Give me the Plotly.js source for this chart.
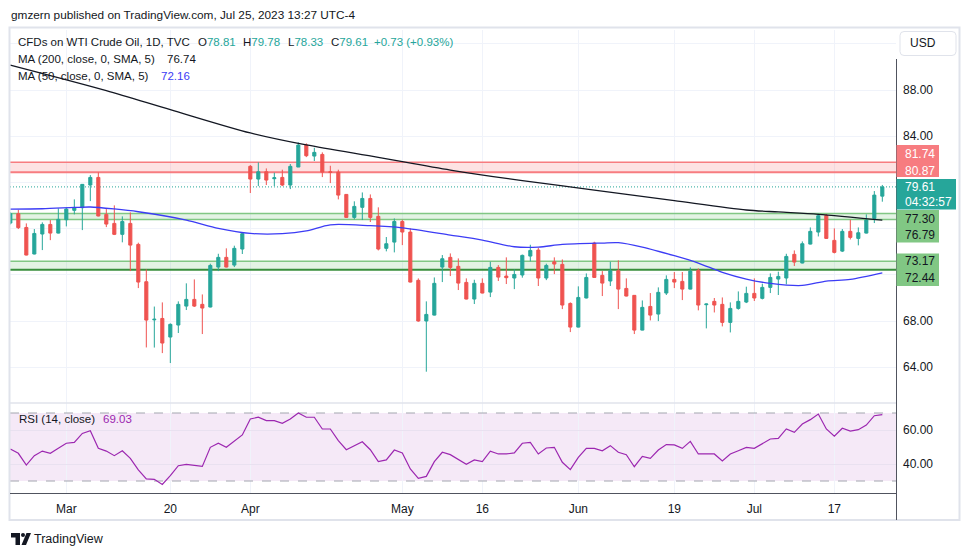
<!DOCTYPE html>
<html><head><meta charset="utf-8">
<script src="https://cdn.plot.ly/plotly-3.0.1.min.js"></script>
<style>html,body{margin:0;padding:0;background:#fff;}#chart{width:970px;height:557px;}</style>
</head><body><div id="chart"></div>
<script>
// ---------- DATA ----------
const dates = ["2023-02-20","2023-02-21","2023-02-22","2023-02-23","2023-02-24","2023-02-27","2023-02-28",
"2023-03-01","2023-03-02","2023-03-03","2023-03-06","2023-03-07","2023-03-08","2023-03-09","2023-03-10","2023-03-13","2023-03-14","2023-03-15","2023-03-16","2023-03-17","2023-03-20","2023-03-21","2023-03-22","2023-03-23","2023-03-24","2023-03-27","2023-03-28","2023-03-29","2023-03-30","2023-03-31",
"2023-04-03","2023-04-04","2023-04-05","2023-04-06","2023-04-10","2023-04-11","2023-04-12","2023-04-13","2023-04-14","2023-04-17","2023-04-18","2023-04-19","2023-04-20","2023-04-21","2023-04-24","2023-04-25","2023-04-26","2023-04-27","2023-04-28",
"2023-05-01","2023-05-02","2023-05-03","2023-05-04","2023-05-05","2023-05-08","2023-05-09","2023-05-10","2023-05-11","2023-05-12","2023-05-15","2023-05-16","2023-05-17","2023-05-18","2023-05-19","2023-05-22","2023-05-23","2023-05-24","2023-05-25","2023-05-26","2023-05-30","2023-05-31",
"2023-06-01","2023-06-02","2023-06-05","2023-06-06","2023-06-07","2023-06-08","2023-06-09","2023-06-12","2023-06-13","2023-06-14","2023-06-15","2023-06-16","2023-06-19","2023-06-20","2023-06-21","2023-06-22","2023-06-23","2023-06-26","2023-06-27","2023-06-28","2023-06-29","2023-06-30",
"2023-07-03","2023-07-04","2023-07-05","2023-07-06","2023-07-07","2023-07-10","2023-07-11","2023-07-12","2023-07-13","2023-07-14","2023-07-17","2023-07-18","2023-07-19","2023-07-20","2023-07-21","2023-07-24","2023-07-25"];

const openP = [76.48,77.29,76.10,73.80,75.53,76.36,75.61,76.77,77.58,77.81,
79.77,80.43,77.23,76.45,75.50,76.45,74.63,71.40,68.10,68.22,
66.61,67.65,69.29,69.87,69.44,69.21,72.67,73.51,72.84,74.23,
81.39,80.29,80.92,80.32,80.43,79.77,81.33,83.23,82.28,82.42,
80.92,80.89,78.96,76.97,77.84,78.61,77.06,74.29,74.83,76.62,
75.70,71.52,68.00,68.51,72.67,73.51,72.73,71.34,69.90,71.26,
70.50,72.64,71.89,71.72,71.98,73.62,74.14,71.72,73.13,72.90,
69.52,67.47,69.99,74.75,71.95,71.46,72.35,70.82,70.22,67.21,
69.26,68.60,70.42,71.60,71.43,70.76,72.38,69.41,69.70,69.44,
67.88,69.09,69.64,70.39,69.96,70.91,71.63,71.72,73.77,73.02,
74.66,75.70,77.14,74.98,74.05,75.76,75.15,75.61,76.88,78.81];
const highP = [77.40,77.63,76.45,75.96,76.54,76.74,77.75,77.81,78.53,79.86,
80.63,80.87,77.69,78.01,77.06,77.40,74.78,72.47,69.25,69.61,
67.79,69.70,71.26,71.60,70.30,72.96,73.82,74.29,74.52,75.64,
81.50,81.73,81.21,80.84,81.10,81.59,83.46,83.38,83.00,82.60,
81.44,81.10,78.99,78.36,79.13,78.96,77.84,75.27,76.88,76.77,
76.02,71.69,69.70,71.77,73.71,73.85,73.42,71.69,71.57,71.69,
73.13,72.84,73.51,72.47,73.75,74.60,74.34,72.96,73.51,73.33,
69.61,71.00,72.12,74.86,72.32,73.13,73.25,71.69,70.25,69.78,
70.42,70.91,71.95,72.24,72.24,72.64,72.55,69.50,69.99,70.04,
69.61,70.56,70.97,71.69,71.23,72.12,72.27,73.82,74.11,74.89,
76.10,77.29,77.26,76.02,75.96,76.77,76.10,77.23,79.25,79.78];
const lowP = [76.36,75.96,73.68,73.77,74.14,75.00,75.58,76.19,77.23,75.87,
78.38,77.06,76.13,75.44,74.81,72.32,70.85,65.71,65.70,65.22,
64.36,66.96,68.95,69.21,66.87,69.18,72.32,72.64,72.67,73.80,
79.08,79.68,79.77,79.68,79.68,79.42,81.33,82.19,81.85,80.46,
79.94,78.53,76.94,76.80,76.74,76.57,74.11,74.03,73.94,74.57,
71.34,67.94,63.61,68.48,71.37,71.89,70.68,69.87,69.47,70.39,
70.07,71.46,71.20,70.76,71.75,73.16,71.03,71.54,72.06,69.03,
67.04,67.45,69.96,71.75,70.16,71.03,69.03,70.13,66.87,67.19,
68.05,67.99,70.25,70.85,69.81,70.74,68.92,67.36,68.74,67.53,
67.01,68.98,69.55,69.73,69.87,70.42,70.25,71.17,72.76,72.99,
74.63,75.32,75.12,73.85,73.97,75.06,74.55,75.58,76.48,78.33];
const closeP = [77.29,76.08,73.71,75.58,76.36,75.61,76.80,77.69,77.81,79.83,
80.43,77.09,76.39,75.50,76.62,74.57,71.37,68.08,68.15,66.09,
67.71,69.44,69.87,69.29,69.12,72.81,73.51,72.67,74.29,75.56,
80.29,80.92,80.20,80.40,79.77,81.39,83.23,82.31,82.60,80.89,
80.87,78.90,76.97,77.92,78.61,76.97,74.23,74.69,76.62,75.70,
71.37,68.00,68.57,71.26,73.39,72.64,71.28,69.90,71.26,70.42,
72.64,71.80,71.75,72.03,73.68,74.11,71.72,72.81,72.93,69.38,
67.47,70.04,71.77,71.77,71.28,72.35,70.76,70.16,67.21,69.18,
68.51,70.48,71.60,71.37,70.76,72.32,69.38,69.47,69.38,67.88,
69.09,69.70,70.39,69.99,70.91,71.77,71.86,73.59,73.10,74.69,
75.76,77.11,75.15,73.94,75.76,75.24,75.64,76.74,78.90,79.61];

const rsi = [48.8,46.3,39.4,44.9,47.6,46.3,49.2,52.2,52.7,58.0,
59.6,49.2,47.6,44.9,47.8,43.3,36.5,31.2,31.0,28.0,
33.1,39.0,39.8,39.0,38.6,49.8,52.2,49.8,53.7,57.1,
66.5,67.5,65.5,65.5,63.9,66.5,70.0,67.5,67.5,60.6,
60.6,53.7,48.4,50.8,53.1,48.4,41.4,42.4,48.2,46.5,
37.1,31.6,32.7,41.4,46.9,45.5,42.9,39.8,42.4,41.4,
47.5,45.9,45.9,46.5,52.2,52.7,45.9,49.4,49.8,41.0,
36.7,43.9,49.2,49.2,47.8,50.8,46.9,45.5,38.4,44.5,
43.3,48.2,51.4,51.2,49.2,53.3,45.9,45.9,45.9,41.8,
45.9,47.8,49.8,49.2,52.2,54.7,55.1,60.6,58.6,63.5,
66.1,69.4,60.6,56.3,61.0,59.4,60.2,62.9,68.4,69.03];

const ma200Dates = ["2023-02-20","2023-03-08","2023-03-20","2023-04-03","2023-04-13","2023-04-26","2023-05-09","2023-05-22","2023-06-05","2023-06-19","2023-06-30","2023-07-06","2023-07-13","2023-07-25"];
const ma200 = [90.16,87.95,86.30,84.28,83.24,82.17,81.07,80.15,79.34,78.42,77.61,77.44,77.24,76.74];

const ma50Dates = ["2023-02-20","2023-02-24","2023-03-02","2023-03-06","2023-03-09","2023-03-14","2023-03-22","2023-03-28","2023-04-03","2023-04-10","2023-04-13","2023-04-18","2023-04-25","2023-05-01","2023-05-09","2023-05-15","2023-05-19","2023-05-24","2023-05-30","2023-06-06","2023-06-08","2023-06-13","2023-06-19","2023-06-22","2023-06-27","2023-06-30","2023-07-05","2023-07-11","2023-07-14","2023-07-19","2023-07-25"];
const ma50 = [77.69,77.72,77.83,77.87,77.70,77.46,76.74,76.02,75.58,75.56,75.80,76.33,76.25,76.07,75.44,75.00,74.43,74.40,74.63,74.75,74.78,74.40,73.65,73.02,72.21,71.63,71.26,71.08,71.46,71.60,72.16];

const tickDates = ["2023-03-01","2023-03-20","2023-04-03","2023-05-01","2023-05-15","2023-06-01","2023-06-19","2023-07-03","2023-07-17"];
const tickLabels = ["Mar","20","Apr","May","16","Jun","19","Jul","17"];

const priceTicks = [64,68,72,76,80,84,88,92];
const priceTickText = ["64.00","68.00","","","","84.00","88.00",""];
const rsiTicks = [40,60];
const rsiTickText = ["40.00","60.00"];

const resistance = [80.87, 81.74];
const supportHigh = [76.79, 77.30];
const supportLow = [72.44, 73.17];
const lastPrice = 79.61;
const countdown = "04:32:57";
const rsiBands = [30, 70];

// ---------- HELPERS ----------
const W = 970, H = 557;
const px = x => x / W, py = y => 1 - y / H;
const FONT = "Liberation Sans, Arial, sans-serif";
const DARK = "#131722";
const UP = "#26a69a", DOWN = "#ef5350";
const fmt = v => v.toFixed(2);
const XR = [-0.04, 110.71];

function rectShape(x0, y0, x1, y1, fill, line) {
  return {type: "rect", xref: "paper", yref: "paper", x0: px(x0), x1: px(x1), y0: py(y1), y1: py(y0),
    fillcolor: fill, line: line || {width: 0}, layer: "above"};
}
function roundRectPath(x0, y0, x1, y1, r) {
  const X = px, Y = py;
  return `M${X(x0 + r)},${Y(y0)} L${X(x1 - r)},${Y(y0)} Q${X(x1)},${Y(y0)} ${X(x1)},${Y(y0 + r)} L${X(x1)},${Y(y1 - r)} Q${X(x1)},${Y(y1)} ${X(x1 - r)},${Y(y1)} L${X(x0 + r)},${Y(y1)} Q${X(x0)},${Y(y1)} ${X(x0)},${Y(y1 - r)} L${X(x0)},${Y(y0 + r)} Q${X(x0)},${Y(y0)} ${X(x0 + r)},${Y(y0)} Z`;
}
function polyPath(pts) {
  return "M" + pts.map(p => px(p[0]) + "," + py(p[1])).join(" L") + " Z";
}
function txt(x, y, text, size, color, extra) {
  return Object.assign({xref: "paper", yref: "paper", x: px(x), y: py(y), xanchor: "left", yanchor: "middle",
    text: text, showarrow: false, font: {family: FONT, size: size, color: color}, borderpad: 0}, extra || {});
}

// ---------- TRACES ----------
const traces = [
  {type: "candlestick", x: dates, open: openP, high: highP, low: lowP, close: closeP,
   xaxis: "x", yaxis: "y", whiskerwidth: 0, hoverinfo: "skip",
   increasing: {line: {color: UP, width: 1}, fillcolor: UP},
   decreasing: {line: {color: DOWN, width: 1}, fillcolor: DOWN}},
  {type: "scatter", mode: "lines", x: ma200Dates, y: ma200, xaxis: "x", yaxis: "y",
   line: {color: DARK, width: 1.3, shape: "spline", smoothing: 0.8}, hoverinfo: "skip"},
  {type: "scatter", mode: "lines", x: ma50Dates, y: ma50, xaxis: "x", yaxis: "y",
   line: {color: "#3c3cf5", width: 1.3, shape: "spline", smoothing: 0.8}, hoverinfo: "skip"},
  {type: "scatter", mode: "lines", x: dates, y: rsi, xaxis: "x", yaxis: "y2",
   line: {color: "#9c27b0", width: 1.2}, hoverinfo: "skip"}
];

// ---------- SHAPES ----------
const shapes = [];
function zone(lo, hi, fill, lineCol, loCol, loW) {
  shapes.push({type: "rect", xref: "x", yref: "y", x0: XR[0], x1: XR[1], y0: lo, y1: hi,
    fillcolor: fill, line: {width: 0}, layer: "between"});
  shapes.push({type: "line", xref: "x", yref: "y", x0: XR[0], x1: XR[1], y0: hi, y1: hi,
    line: {color: lineCol, width: 1.5}, layer: "between"});
  shapes.push({type: "line", xref: "x", yref: "y", x0: XR[0], x1: XR[1], y0: lo, y1: lo,
    line: {color: loCol || lineCol, width: loW || 1.5}, layer: "between"});
}
zone(resistance[0], resistance[1], "rgba(247,124,128,0.22)", "#f77c80", "#f77c80", 2);
zone(supportHigh[0], supportHigh[1], "rgba(129,199,132,0.22)", "#81c784");
zone(supportLow[0], supportLow[1], "rgba(129,199,132,0.22)", "#81c784", "#388e3c", 2);
shapes.push({type: "line", xref: "x", yref: "y", x0: XR[0], x1: XR[1], y0: lastPrice, y1: lastPrice,
  line: {color: UP, width: 1, dash: "1px,2px"}, layer: "between"});
// RSI band
shapes.push({type: "rect", xref: "x", yref: "y2", x0: XR[0], x1: XR[1], y0: rsiBands[0], y1: rsiBands[1],
  fillcolor: "rgba(156,39,176,0.1)", line: {width: 0}, layer: "below"});
rsiBands.forEach(v => shapes.push({type: "line", xref: "x", yref: "y2", x0: XR[0], x1: XR[1], y0: v, y1: v,
  line: {color: "#a3a6af", width: 1, dash: "dash"}, layer: "between"}));
// frame and separators
shapes.push({type: "rect", xref: "paper", yref: "paper", x0: px(9.5), x1: px(959.5), y0: py(520), y1: py(27.5),
  line: {color: "#e0e3eb", width: 2}, fillcolor: "rgba(0,0,0,0)", layer: "above"});
shapes.push({type: "line", xref: "paper", yref: "paper", x0: px(10), x1: px(896), y0: py(403), y1: py(403),
  line: {color: "#e0e3eb", width: 1.5}, layer: "above"});
shapes.push({type: "line", xref: "paper", yref: "paper", x0: px(10), x1: px(896.5), y0: py(493.5), y1: py(493.5),
  line: {color: "#50535e", width: 1}, layer: "above"});
shapes.push({type: "line", xref: "paper", yref: "paper", x0: px(896.5), x1: px(896.5), y0: py(59), y1: py(520),
  line: {color: "#50535e", width: 1}, layer: "above"});
// USD button
shapes.push({type: "path", xref: "paper", yref: "paper", path: roundRectPath(900, 31.5, 956, 55.5, 4),
  line: {color: "#e0e3eb", width: 1}, fillcolor: "#ffffff", layer: "above"});
// price tags
shapes.push(rectShape(896.5, 145, 939, 177, "#f77c80"));
shapes.push(rectShape(896.5, 179, 956, 209.5, UP));
shapes.push(rectShape(896.5, 210, 939, 242.5, "#81c784"));
shapes.push(rectShape(896.5, 253.5, 939, 286, "#81c784"));
// TradingView logo
shapes.push({type: "path", xref: "paper", yref: "paper", path: polyPath([[11,533],[20,533],[20,545],[15.5,545],[15.5,537.5],[11,537.5]]),
  fillcolor: DARK, line: {width: 0}, layer: "above"});
shapes.push({type: "circle", xref: "paper", yref: "paper", x0: px(21), x1: px(25), y0: py(537), y1: py(533),
  fillcolor: DARK, line: {width: 0}, layer: "above"});
shapes.push({type: "path", xref: "paper", yref: "paper", path: polyPath([[26.5,533],[31,533],[26,545],[21.5,545]]),
  fillcolor: DARK, line: {width: 0}, layer: "above"});

// ---------- ANNOTATIONS ----------
const G = "#26a69a";
const LF = 11.5;
const annotations = [
  txt(10, 15, "gmzern published on TradingView.com, Jul 25, 2023 13:27 UTC-4", 11.8, DARK),
  txt(17, 42, "CFDs on WTI Crude Oil, 1D, TVC", LF, DARK),
  txt(197, 42, `O<span style="color:${G}">${fmt(openP[109])}</span>`, LF, DARK),
  txt(242, 42, `H<span style="color:${G}">${fmt(highP[109])}</span>`, LF, DARK),
  txt(287, 42, `L<span style="color:${G}">${fmt(lowP[109])}</span>`, LF, DARK),
  txt(330, 42, `C<span style="color:${G}">${fmt(closeP[109])}</span>`, LF, DARK),
  txt(373, 42, "+0.73 (+0.93%)", LF, G),
  txt(17, 59, "MA (200, close, 0, SMA, 5)", LF, DARK),
  txt(166, 59, fmt(ma200[ma200.length - 1]), LF, DARK),
  txt(17, 76, "MA (50, close, 0, SMA, 5)", LF, DARK),
  txt(160, 76, fmt(ma50[ma50.length - 1]), LF, "#3c3cf5"),
  txt(18, 418.5, "RSI (14, close)", LF, DARK),
  txt(102, 418.5, fmt(rsi[rsi.length - 1]), LF, "#9c27b0"),
  txt(909, 43.5, "USD", 12, DARK),
  txt(904, 154, fmt(resistance[1]), 12, "#ffffff"),
  txt(904, 170.5, fmt(resistance[0]), 12, "#ffffff"),
  txt(904, 187.3, fmt(lastPrice), 12, "#ffffff"),
  txt(904, 201.7, countdown, 12, "#ffffff"),
  txt(904, 218.7, fmt(supportHigh[1]), 12, DARK),
  txt(904, 235, fmt(supportHigh[0]), 12, DARK),
  txt(904, 261, fmt(supportLow[1]), 12, DARK),
  txt(904, 278.3, fmt(supportLow[0]), 12, DARK),
  txt(33, 539, "TradingView", 12.5, DARK)
];

// ---------- LAYOUT ----------
const layout = {
  width: W, height: H, margin: {l: 0, r: 0, t: 0, b: 0},
  paper_bgcolor: "#ffffff", plot_bgcolor: "#ffffff",
  showlegend: false, boxgap: 0.45,
  font: {family: FONT, size: 12, color: DARK},
  xaxis: {type: "category", domain: [px(10), px(896)], range: XR, anchor: "y2",
    tickvals: tickDates, ticktext: tickLabels, showgrid: true, gridcolor: "#f0f3fa", gridwidth: 1,
    ticks: "", showline: false, zeroline: false, rangeslider: {visible: false},
    tickfont: {family: FONT, size: 12, color: DARK}, ticklabelstandoff: 7, fixedrange: true},
  yaxis: {domain: [py(403), py(30)], range: [60.90, 93.195], side: "right", anchor: "x",
    tickvals: priceTicks, ticktext: priceTickText, showgrid: true, gridcolor: "#f0f3fa",
    ticks: "", zeroline: false, showline: false, tickfont: {family: FONT, size: 12, color: DARK},
    ticklabelstandoff: 6, fixedrange: true},
  yaxis2: {domain: [py(493), py(403)], range: [22.94, 75.88], side: "right", anchor: "x",
    tickvals: rsiTicks, ticktext: rsiTickText, showgrid: true, gridcolor: "#e9e1f0",
    ticks: "", zeroline: false, showline: false, tickfont: {family: FONT, size: 12, color: DARK},
    ticklabelstandoff: 6, fixedrange: true},
  shapes: shapes,
  annotations: annotations
};

Plotly.newPlot("chart", traces, layout, {displayModeBar: false, staticPlot: true});
</script>
</body></html>
